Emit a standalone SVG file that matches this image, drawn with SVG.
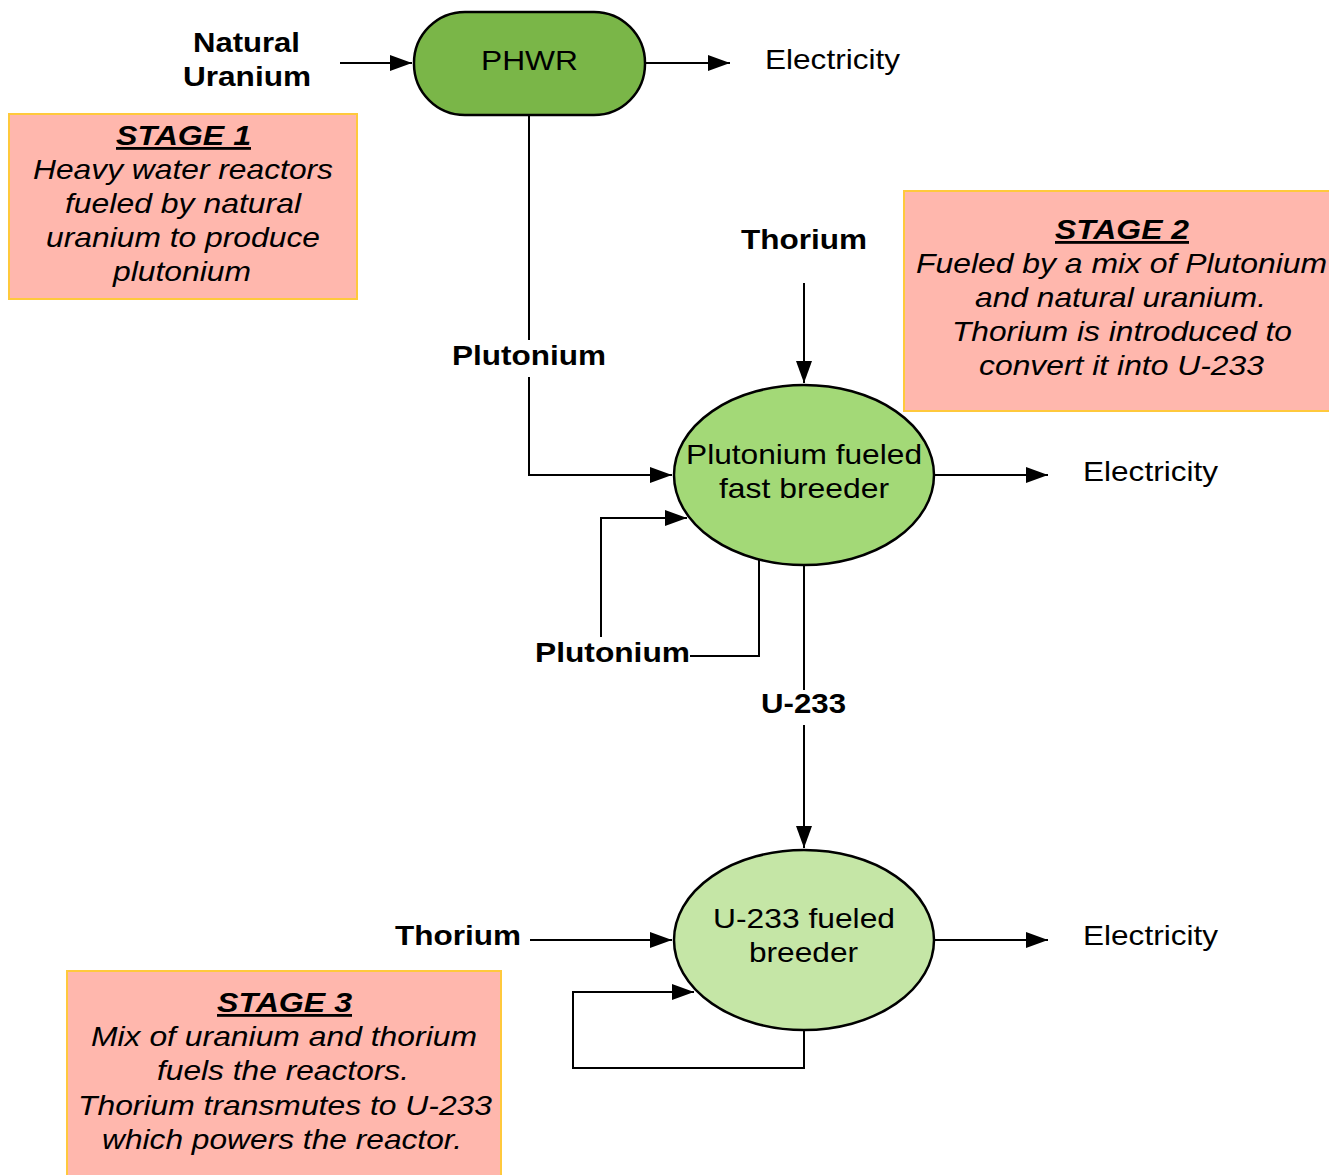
<svg xmlns="http://www.w3.org/2000/svg" width="1329" height="1175" viewBox="0 0 1329 1175">
<style>
text{font-family:"Liberation Sans",Arial,sans-serif;font-size:28px;fill:#000;text-anchor:middle}
.b{font-weight:bold}
.i{font-style:italic}
.t{font-weight:bold;font-style:italic;text-decoration:underline}
.note{fill:#ffb7ad;stroke:#ffc93c;stroke-width:2}
.c{fill:none;stroke:#000;stroke-width:2}
.n{stroke:#000;stroke-width:2.5}
</style>
<defs>
<marker id="ah" markerUnits="userSpaceOnUse" markerWidth="24" markerHeight="16" refX="22" refY="8" orient="auto">
<path d="M0,0 L22,8 L0,16 Z" fill="#000"/>
</marker>
</defs>
<g id="connectors">
<line class="c" x1="340" y1="63" x2="412" y2="63" marker-end="url(#ah)"/>
<line class="c" x1="645" y1="63" x2="730" y2="63" marker-end="url(#ah)"/>
<path class="c" d="M529,115 V340"/>
<path class="c" d="M529,377 V475 H672" marker-end="url(#ah)"/>
<line class="c" x1="804" y1="283" x2="804" y2="383" marker-end="url(#ah)"/>
<line class="c" x1="934" y1="475" x2="1048" y2="475" marker-end="url(#ah)"/>
<path class="c" d="M759,560 V656 H690"/>
<path class="c" d="M601,637 V518 H687" marker-end="url(#ah)"/>
<path class="c" d="M804,565 V690"/>
<line class="c" x1="804" y1="725" x2="804" y2="848" marker-end="url(#ah)"/>
<line class="c" x1="530" y1="940" x2="672" y2="940" marker-end="url(#ah)"/>
<line class="c" x1="934" y1="940" x2="1048" y2="940" marker-end="url(#ah)"/>
<path class="c" d="M804,1030 V1068 H573 V992 H694" marker-end="url(#ah)"/>
</g>
<g id="phwr">
<rect class="n" x="414" y="12" width="231" height="103" rx="51" fill="#7ab648"/>
<text x="529.5" y="70" textLength="97" lengthAdjust="spacingAndGlyphs">PHWR</text>
</g>
<g id="natural-uranium">
<text class="b" x="246.5" y="52" textLength="107" lengthAdjust="spacingAndGlyphs">Natural</text>
<text class="b" x="247" y="86" textLength="128" lengthAdjust="spacingAndGlyphs">Uranium</text>
</g>
<g id="electricity-1"><text x="832.5" y="69" textLength="135" lengthAdjust="spacingAndGlyphs">Electricity</text></g>
<g id="stage1">
<rect class="note" x="9" y="114" width="348" height="185"/>
<text class="t" x="183.5" y="145" textLength="135" lengthAdjust="spacingAndGlyphs">STAGE 1</text>
<text class="i" x="183" y="179" textLength="300" lengthAdjust="spacingAndGlyphs">Heavy water reactors</text>
<text class="i" x="183" y="213" textLength="236" lengthAdjust="spacingAndGlyphs">fueled by natural</text>
<text class="i" x="183" y="247" textLength="274" lengthAdjust="spacingAndGlyphs">uranium to produce</text>
<text class="i" x="182" y="281" textLength="138" lengthAdjust="spacingAndGlyphs">plutonium</text>
</g>
<g id="plutonium-label-1"><text class="b" x="529" y="365" textLength="154" lengthAdjust="spacingAndGlyphs">Plutonium</text></g>
<g id="thorium-1"><text class="b" x="804" y="249" textLength="126" lengthAdjust="spacingAndGlyphs">Thorium</text></g>
<g id="stage2">
<rect class="note" x="904" y="191" width="430" height="220"/>
<text class="t" x="1122" y="239" textLength="134" lengthAdjust="spacingAndGlyphs">STAGE 2</text>
<text class="i" x="1121.5" y="273" textLength="411" lengthAdjust="spacingAndGlyphs">Fueled by a mix of Plutonium</text>
<text class="i" x="1120.5" y="307" textLength="291" lengthAdjust="spacingAndGlyphs">and natural uranium.</text>
<text class="i" x="1122" y="341" textLength="340" lengthAdjust="spacingAndGlyphs">Thorium is introduced to</text>
<text class="i" x="1121.5" y="375" textLength="285" lengthAdjust="spacingAndGlyphs">convert it into U-233</text>
</g>
<g id="fast-breeder">
<ellipse class="n" cx="804" cy="475" rx="130" ry="90" fill="#a3d977"/>
<text x="804" y="464" textLength="236" lengthAdjust="spacingAndGlyphs">Plutonium fueled</text>
<text x="804" y="498" textLength="170" lengthAdjust="spacingAndGlyphs">fast breeder</text>
</g>
<g id="electricity-2"><text x="1150.5" y="481" textLength="135" lengthAdjust="spacingAndGlyphs">Electricity</text></g>
<g id="plutonium-label-2"><text class="b" x="612.5" y="662" textLength="155" lengthAdjust="spacingAndGlyphs">Plutonium</text></g>
<g id="u233-label"><text class="b" x="803.5" y="713" textLength="85" lengthAdjust="spacingAndGlyphs">U-233</text></g>
<g id="u233-breeder">
<ellipse class="n" cx="804" cy="940" rx="130" ry="90" fill="#c5e6a6"/>
<text x="804" y="928" textLength="182" lengthAdjust="spacingAndGlyphs">U-233 fueled</text>
<text x="803.5" y="962" textLength="109" lengthAdjust="spacingAndGlyphs">breeder</text>
</g>
<g id="thorium-2"><text class="b" x="458" y="945" textLength="126" lengthAdjust="spacingAndGlyphs">Thorium</text></g>
<g id="electricity-3"><text x="1150.5" y="945" textLength="135" lengthAdjust="spacingAndGlyphs">Electricity</text></g>
<g id="stage3">
<rect class="note" x="67" y="971" width="434" height="215"/>
<text class="t" x="284.5" y="1012" textLength="135" lengthAdjust="spacingAndGlyphs">STAGE 3</text>
<text class="i" x="284" y="1046" textLength="386" lengthAdjust="spacingAndGlyphs">Mix of uranium and thorium</text>
<text class="i" x="283" y="1080" textLength="252" lengthAdjust="spacingAndGlyphs">fuels the reactors.</text>
<text class="i" x="285" y="1115" textLength="414" lengthAdjust="spacingAndGlyphs">Thorium transmutes to U-233</text>
<text class="i" x="282" y="1149" textLength="360" lengthAdjust="spacingAndGlyphs">which powers the reactor.</text>
</g>
</svg>
